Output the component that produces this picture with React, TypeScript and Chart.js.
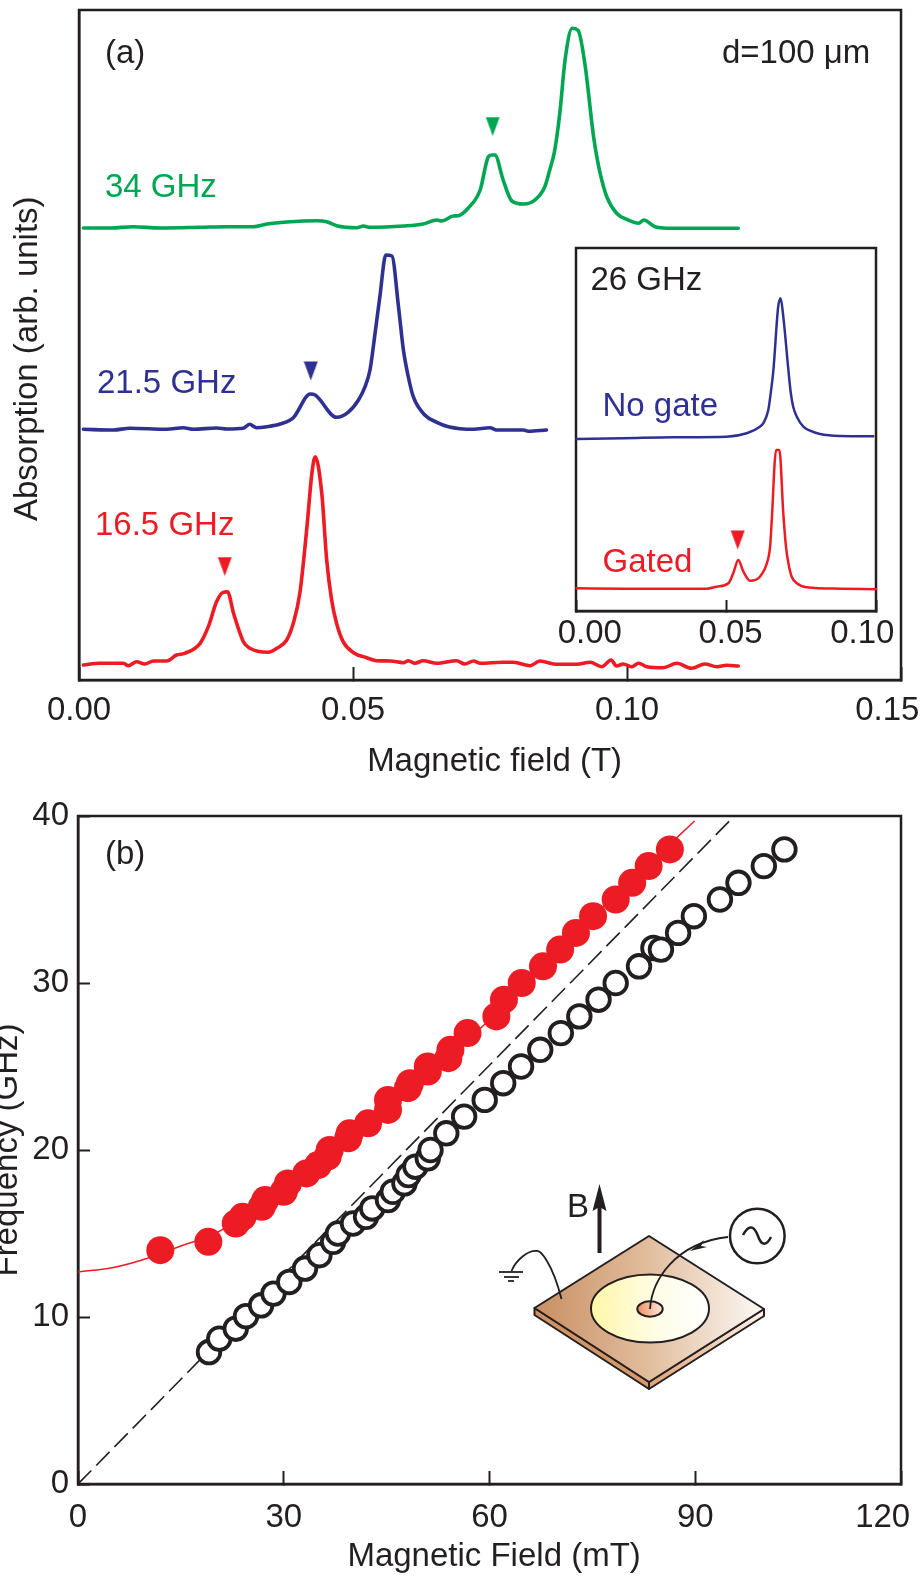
import React, { useEffect, useRef } from "react";
import { Chart, registerables } from "chart.js";

Chart.register(...registerables);

// ---- data ---- x in tesla, y in arbitrary units
const green34x = [0.0008,0.0057,0.0099,0.0148,0.0221,0.027,0.0318,0.0343,0.0379,0.0434,0.0452,0.047,0.0507,0.0519,0.0531,0.0592,0.0628,0.0653,0.0662,0.0683,0.0692,0.071,0.0732,0.0747,0.0753,0.0759,0.0774,0.079,0.0811,0.0832,0.085,0.0859,0.0867,0.0872,0.0878,0.0887,0.09,0.0911,0.0923,0.0939,0.0945,0.0951,0.0963,0.0981,0.1002,0.1021,0.1031,0.1051,0.1085,0.1145,0.1203];
const green34y = [452,452,453.3,452,452.7,453.3,453.3,456,458,459.3,458.3,454.3,452.3,454,452.7,454,456,460,459,464,464.3,471.7,490,523.3,525,525,500,479,476,480,493.3,510,526.7,543.3,570,620,651.7,649.3,616.7,543.3,523,506.7,483.3,466.7,460,456.7,460,453.3,451.7,451.7,451.7];
const blue215x = [0.0008,0.0063,0.0093,0.016,0.019,0.0209,0.0251,0.027,0.03,0.0311,0.0324,0.0343,0.0367,0.0391,0.0422,0.0431,0.047,0.0491,0.051,0.0522,0.0531,0.0537,0.0549,0.056,0.0571,0.0583,0.0592,0.0601,0.061,0.0631,0.0653,0.0674,0.072,0.075,0.0762,0.0811,0.082,0.0853];
const blue215y = [250.7,250,251.7,250.7,252.3,250.7,252,251,251.7,255.7,252.3,253.3,256,262.3,286,285,262.7,267.7,280,293.3,310,333,383.3,425,424,373.3,330,303,283.3,265,257.7,253.3,250.7,252.3,250,250,248.7,250];
const red165x = [0.0008,0.0038,0.0081,0.009,0.0105,0.012,0.0136,0.016,0.0178,0.0193,0.0221,0.0236,0.0251,0.0263,0.0271,0.0282,0.03,0.0312,0.0345,0.0361,0.0379,0.0391,0.0403,0.0416,0.0425,0.0431,0.0443,0.0452,0.0461,0.047,0.0482,0.0501,0.0525,0.0543,0.0568,0.0592,0.0601,0.0613,0.0628,0.0653,0.0689,0.0704,0.072,0.0732,0.0774,0.0793,0.0823,0.0841,0.0872,0.0908,0.0933,0.0954,0.0971,0.0981,0.0993,0.1009,0.1021,0.1036,0.1066,0.1091,0.1118,0.1142,0.1164,0.1182,0.1203];
const red165y = [15,16.7,16.7,14.3,18.3,16,19,19,25,26.7,36.7,53.3,78.3,87.7,88.3,66.7,38.3,31.7,27.7,31.7,40,56.7,86.7,153.3,206.7,223.3,186.7,120,80,56.7,38.3,27.3,22.3,19.3,19,17.3,19.3,16.7,19.3,16.7,19.3,16,19,16.7,17.7,17.7,14.3,19,15.7,15.7,17.7,13.3,20,14,16,13.3,16.7,13.3,12.3,16.7,11.7,16,13.3,14.7,14];
const arrowAx = [0.0755, 0.0423, 0.0266];
const arrowAy = [553.5, 309, 113.5];
const noGateX = [0.0002,0.0158,0.0324,0.0502,0.0569,0.0613,0.0624,0.0641,0.0649,0.0658,0.0674,0.0682,0.0691,0.0708,0.0716,0.0724,0.0736,0.0758,0.078,0.0813,0.088,0.0991];
const noGateY = [172,172.7,173.7,174.3,177.7,184.3,187.7,201,217.7,241,304.3,312.7,294.3,241,218,204.3,194.3,184.3,180.3,177,175,174.7];
const gatedX = [0.0002,0.0158,0.0436,0.0469,0.0508,0.0524,0.0541,0.0558,0.058,0.0613,0.0641,0.0647,0.0652,0.0667,0.0678,0.0691,0.07,0.0708,0.0719,0.0736,0.0769,0.088,0.1];
const gatedY = [22.7,22.3,22.3,24.3,27.7,37.7,51,39.3,30.3,34.3,52.7,64.3,87.7,161,161,97.7,64.3,47.7,34.3,27.7,23.7,22.3,21.7];
const arrowInsetX = [0.0539];
const arrowInsetY = [71];
const openField = [19.1,20.6,23,24.5,26.7,28.5,30.8,33.1,35.2,37.2,37.9,40.1,42,42.9,45.2,45.9,47.6,48.2,49.2,51,51.4,53.7,56.3,59.3,62,64.6,67.4,70.4,73.1,75.9,78.4,81.8,83.9,85,87.5,89.8,93.6,96.3,100,103];
const openFreq = [7.9,8.7,9.3,10.05,10.7,11.4,12.1,12.9,13.7,14.5,15,15.6,16,16.5,17,17.5,18,18.5,19,19.5,20,21,22,23,24,25,26,27,28,29,30,31,32.1,32,33,34,35,36,37,38];
const gatedField = [12,19,23,24,26.8,27.3,30,30.6,33.3,35,36.4,36.7,39.4,39.6,42.3,45.2,45.2,48.1,48.4,51,51,54,54.3,56.8,61,62.1,64.7,67.8,70.3,72.6,75.1,78.4,80.8,83.2,86.3];
const gatedFreq = [14,14.5,15.6,16,16.6,17,17.5,18,18.6,19.1,19.6,20,20.7,21,21.6,22.4,23,23.7,24,24.7,25,25.5,26,27,28,29,30,31,32,33,34,35,36,37,38];
const fitField = [0,5,10,15,20,25,30,35,40,45,50,55,60,65,70,75,80,85,89.9];
const fitFreq = [12.7,12.95,13.5,14.25,15,16.3,17.6,19,20.7,22.6,24.5,26,27.8,30,32,34,35.8,37.8,39.7];
const guideField = [0, 95.7];
const guideFreq = [0, 40];
const ticksA = ["0.00", "0.05", "0.10", "0.15   "];
const ticksInset = ["   0.00", " 0.05", "0.10   "];
const ticksBx = ["0", "30", "60", "90", "120    "];
const ticksBy = ["0", "10", "20", "30", "40"];

const INK = "#231f20";
const GREEN = "#00a651";
const BLUE = "#2e3192";
const RED = "#ed1c24";
const FONT = '"Liberation Sans", Arial, sans-serif';
const fs = 33;

const zip = (xs: number[], ys: number[]) => xs.map((x, i) => ({ x, y: ys[i] }));

function triangle(color: string) {
  const c = document.createElement("canvas");
  c.width = 15;
  c.height = 20;
  const g = c.getContext("2d")!;
  g.fillStyle = color;
  g.beginPath();
  g.moveTo(0.5, 0.5);
  g.lineTo(14.5, 0.5);
  g.lineTo(7.5, 19.5);
  g.closePath();
  g.fill();
  return c;
}

const trace = (xs: number[], ys: number[], color: string, w: number) => ({
  type: "line",
  data: zip(xs, ys),
  borderColor: color,
  borderWidth: w,
  pointRadius: 0,
  cubicInterpolationMode: "monotone",
  fill: false,
  borderCapStyle: "round",
  borderJoinStyle: "round",
  clip: false,
});
const marker = (xs: number[], ys: number[], color: string) => ({
  type: "scatter",
  data: zip(xs, ys),
  pointStyle: triangle(color),
  pointRadius: 8,
  showLine: false,
  clip: false,
});

type Note = [string, number, number, string];
const notesPlugin = (notes: Note[]) => ({
  id: "notes",
  afterDatasetsDraw(chart: any) {
    const c = chart.ctx;
    c.save();
    c.font = `${fs}px ${FONT}`;
    c.textAlign = "left";
    c.textBaseline = "alphabetic";
    for (const [t, x, y, col] of notes) {
      c.fillStyle = col;
      c.fillText(t, x, y);
    }
    c.restore();
  },
});
const framePlugin = {
  id: "frame",
  beforeDatasetsDraw(chart: any) {
    const { left, top, right, bottom } = chart.chartArea;
    const c = chart.ctx;
    c.save();
    c.strokeStyle = INK;
    c.lineWidth = 2.5;
    c.strokeRect(left, top, right - left, bottom - top);
    c.restore();
  },
};

// setup sketch drawn inside panel (b); canvas of panel (b) starts 790px down
const sketchPlugin = {
  id: "sketch",
  afterDatasetsDraw(chart: any) {
    const c = chart.ctx;
    c.save();
    c.translate(0, -790);
    c.strokeStyle = INK;
    c.lineWidth = 2;
    c.lineJoin = "round";
    const poly = (pts: number[][], fill?: any) => {
      c.beginPath();
      pts.forEach((p, i) => (i ? c.lineTo(p[0], p[1]) : c.moveTo(p[0], p[1])));
      c.closePath();
      if (fill) {
        c.fillStyle = fill;
        c.fill();
      }
      c.stroke();
    };
    const lin = (x0: number, x1: number, stops: [number, string][]) => {
      const g = c.createLinearGradient(x0, 0, x1, 0);
      stops.forEach(([o, s]) => g.addColorStop(o, s));
      return g;
    };
    poly([[534.5, 1308], [649, 1382], [649, 1389], [534.5, 1315]], lin(534, 649, [[0, "#cf9160"], [1, "#d99a6b"]]));
    poly([[649, 1382], [764, 1309], [764, 1316], [649, 1389]], lin(649, 764, [[0, "#dfa273"], [1, "#fdf3ea"]]));
    poly([[649, 1236], [764, 1309], [649, 1382], [534.5, 1308]], lin(534, 764, [[0, "#c98f62"], [0.5, "#e1bd9e"], [1, "#fdf9f6"]]));
    const ell = (x: number, y: number, rx: number, ry: number, fill: any) => {
      c.beginPath();
      c.ellipse(x, y, rx, ry, 0, 0, Math.PI * 2);
      c.fillStyle = fill;
      c.fill();
      c.stroke();
    };
    ell(650, 1308.5, 59, 34, lin(591, 709, [[0, "#fff7a8"], [0.55, "#fffde6"], [1, "#ffffff"]]));
    ell(650, 1309, 12.7, 7.7, lin(637, 663, [[0, "#f08f62"], [1, "#fde9dc"]]));
    // wires
    c.lineWidth = 1.8;
    c.beginPath();
    c.moveTo(650, 1309);
    c.bezierCurveTo(652, 1280, 675, 1243, 728, 1237);
    c.stroke();
    c.beginPath();
    c.moveTo(561.5, 1299);
    c.bezierCurveTo(552, 1262, 540, 1250, 537, 1251);
    c.bezierCurveTo(528, 1250, 516, 1260, 511.5, 1271);
    c.stroke();
    // ground
    [[499, 523, 1272], [504, 519, 1277], [508, 514, 1281]].forEach(([a, b, y]) => {
      c.beginPath();
      c.moveTo(a, y);
      c.lineTo(b, y);
      c.stroke();
    });
    // wire arrow head
    c.fillStyle = INK;
    c.beginPath();
    c.moveTo(690, 1251);
    c.lineTo(704, 1240);
    c.lineTo(701, 1246);
    c.lineTo(707, 1247);
    c.closePath();
    c.fill();
    // source
    c.lineWidth = 2.5;
    c.beginPath();
    c.arc(757.3, 1236, 27.3, 0, Math.PI * 2);
    c.fillStyle = "#ffffff";
    c.fill();
    c.stroke();
    c.beginPath();
    c.moveTo(743, 1235);
    c.bezierCurveTo(750, 1222, 755, 1228, 758, 1236);
    c.bezierCurveTo(761, 1245, 766, 1247, 771, 1237);
    c.stroke();
    // B arrow
    c.lineWidth = 4;
    c.beginPath();
    c.moveTo(599.5, 1253);
    c.lineTo(599.5, 1205);
    c.stroke();
    c.fillStyle = INK;
    c.beginPath();
    c.moveTo(599.5, 1184);
    c.lineTo(606.5, 1211);
    c.lineTo(599.5, 1207);
    c.lineTo(592.5, 1211);
    c.closePath();
    c.fill();
    c.restore();
  },
};

const fitAxis = (size: number, horizontal: boolean) => (s: any) => {
  if (horizontal) s.height = size;
  else s.width = size;
  s.paddingLeft = s.paddingRight = s.paddingTop = s.paddingBottom = 0;
};

const grid = (len: number) => ({
  drawOnChartArea: false,
  drawTicks: true,
  tickLength: -len,
  tickWidth: 2,
  tickColor: INK,
});
const border = { display: true, color: INK, width: 2.5 };
const tickFont = { family: FONT, size: fs };

const baseOptions = (pad: any, scales: any) => ({
  responsive: false,
  animation: false,
  maintainAspectRatio: false,
  layout: { padding: pad },
  plugins: { legend: { display: false }, tooltip: { enabled: false }, title: { display: false } },
  scales,
});

const xTicks = (labels: string[], padding: number) => ({
  color: INK,
  font: tickFont,
  padding,
  maxRotation: 0,
  autoSkip: false,
  callback: (_: any, i: number) => labels[i],
});

export default function App() {
  const a = useRef<HTMLCanvasElement>(null);
  const ins = useRef<HTMLCanvasElement>(null);
  const b = useRef<HTMLCanvasElement>(null);

  useEffect(() => {
    const charts: Chart[] = [];
    charts.push(
      new Chart(a.current!, {
        type: "line",
        data: {
          datasets: [
            marker([arrowAx[0]], [arrowAy[0]], GREEN),
            marker([arrowAx[1]], [arrowAy[1]], BLUE),
            marker([arrowAx[2]], [arrowAy[2]], RED),
            trace(green34x, green34y, GREEN, 3.6),
            trace(blue215x, blue215y, BLUE, 3.6),
            trace(red165x, red165y, RED, 3.6),
          ],
        } as any,
        options: baseOptions({ top: 10, right: 19, left: 0, bottom: 0 }, {
          x: {
            type: "linear",
            min: 0,
            max: 0.15,
            ticks: { ...xTicks(ticksA, 24), stepSize: 0.05 },
            grid: grid(13),
            border,
            title: { display: true, text: " Magnetic field (T)", color: INK, font: tickFont, padding: 8 },
            afterFit: fitAxis(110, true),
          },
          y: {
            type: "linear",
            min: 0,
            max: 670,
            ticks: { display: false },
            grid: { display: true, drawOnChartArea: false, drawTicks: false },
            border,
            title: { display: true, text: "Absorption (arb. units)   ", color: INK, font: tickFont, padding: { top: 8, bottom: 0 } },
            afterFit: fitAxis(79, false),
          },
        }) as any,
        plugins: [
          framePlugin,
          notesPlugin([
            ["(a)", 105, 63, INK],
            ["d=100 μm", 722, 63, INK],
            ["34 GHz", 105, 197, GREEN],
            ["21.5 GHz", 97, 393, BLUE],
            ["16.5 GHz", 95, 535, RED],
          ]),
        ] as any,
      })
    );
    charts.push(
      new Chart(ins.current!, {
        type: "line",
        data: {
          datasets: [
            marker(arrowInsetX, arrowInsetY, RED),
            trace(noGateX, noGateY, BLUE, 2.5),
            trace(gatedX, gatedY, RED, 2.5),
          ],
        } as any,
        options: baseOptions({ top: 18, right: 44, left: 36, bottom: 0 }, {
          x: {
            type: "linear",
            min: 0,
            max: 0.1,
            ticks: { ...xTicks(ticksInset, 14), stepSize: 0.05 },
            grid: grid(11),
            border,
            afterFit: fitAxis(49, true),
          },
          y: { type: "linear", min: 0, max: 363, display: false },
        }) as any,
        plugins: [
          framePlugin,
          notesPlugin([
            ["26 GHz", 50.5, 60, INK],
            ["No gate", 62.5, 186, BLUE],
            ["Gated", 62.5, 341.5, RED],
          ]),
        ] as any,
      })
    );
    charts.push(
      new Chart(b.current!, {
        type: "scatter",
        data: {
          datasets: [
            {
              data: zip(gatedField, gatedFreq),
              backgroundColor: RED,
              borderWidth: 0,
              pointRadius: 14,
              clip: false,
            },
            {
              data: zip(openField, openFreq),
              backgroundColor: "#ffffff",
              borderColor: INK,
              borderWidth: 3.8,
              pointRadius: 11.3,
              clip: false,
            },
            {
              type: "line",
              data: zip(fitField, fitFreq),
              borderColor: RED,
              borderWidth: 1.5,
              pointRadius: 0,
              tension: 0.4,
              fill: false,
            },
            {
              type: "line",
              data: zip(guideField, guideFreq),
              borderColor: INK,
              borderWidth: 1.6,
              borderDash: [19, 7],
              pointRadius: 0,
              fill: false,
            },
          ],
        } as any,
        options: baseOptions({ top: 26, right: 19, left: 0, bottom: 0 }, {
          x: {
            type: "linear",
            min: 0,
            max: 120,
            ticks: { ...xTicks(ticksBx, 27), stepSize: 30 },
            grid: grid(13),
            border,
            title: { display: true, text: " Magnetic Field (mT)", color: INK, font: tickFont, padding: 0 },
            afterFit: fitAxis(93, true),
          },
          y: {
            type: "linear",
            min: 0,
            max: 40,
            ticks: {
              color: INK,
              font: tickFont,
              padding: 21,
              stepSize: 10,
              callback: (_: any, i: number) => ticksBy[i],
            },
            grid: grid(12),
            border,
            title: { display: true, text: "Frequency (GHz)", color: INK, font: tickFont, padding: { top: -12, bottom: 0 } },
            afterFit: fitAxis(78, false),
          },
        }) as any,
        plugins: [framePlugin, sketchPlugin, notesPlugin([["(b)", 105, 74, INK], ["B", 567, 427, INK]])] as any,
      })
    );
    return () => charts.forEach((c) => c.destroy());
  }, []);

  const pos = (left: number, top: number): React.CSSProperties => ({ position: "absolute", left, top, display: "block" });
  return (
    <div style={{ position: "absolute", left: 0, top: 0, width: 920, height: 1577, overflow: "hidden", background: "#fff" }}>
      <canvas ref={a} width={920} height={790} style={pos(0, 0)} />
      <canvas ref={b} width={920} height={787} style={pos(0, 790)} />
      <canvas ref={ins} width={380} height={430} style={pos(540, 230)} />
    </div>
  );
}
